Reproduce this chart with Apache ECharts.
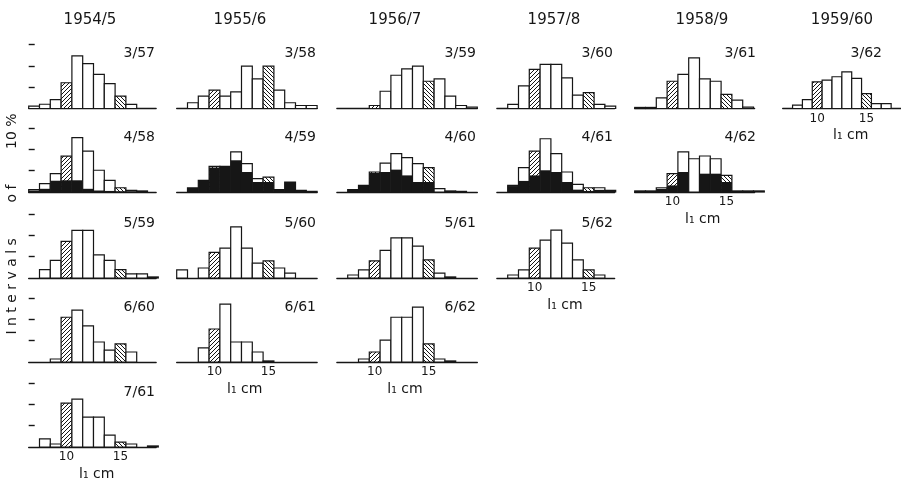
<!DOCTYPE html>
<html>
<head>
<meta charset="utf-8">
<script src="https://cdn.jsdelivr.net/npm/echarts@6/dist/echarts.min.js"></script>
<style>
html, body { margin: 0; background: #fff; }
#chart { width: 901px; height: 481px; }
</style>
</head>
<body>
<div id="chart"></div>
<script>
// year classes, one per column
const yearClasses = ['1954/5', '1955/6', '1956/7', '1957/8', '1958/9', '1959/60']

// % of fish in each 1 cm class of l1 (first value = class given in the panel table)
const pct_3_57 = [1.1, 2.0, 4.2, 12.1, 24.7, 21.1, 16.0, 11.7, 5.8, 1.9]
const pct_4_58 = [1.1, 3.9, 8.6, 16.8, 25.5, 19.2, 10.2, 5.5, 2.0, 0.8, 0.5]
const blk_4_58 = [0.7, 1.5, 5.3, 5.5, 5.5, 1.5, 0.7, 0.5, 0.3, 0.3, 0.3]
const pct_5_59 = [3.9, 8.3, 17.2, 22.4, 22.4, 10.9, 8.3, 3.9, 1.9, 1.9, 0.5]
const pct_6_60 = [1.4, 21.0, 24.4, 17.0, 9.4, 5.6, 8.5, 4.7]
const pct_7_61 = [3.8, 1.4, 20.6, 22.5, 14.0, 14.0, 5.6, 2.3, 1.4, 0, 0.5]

const pct_3_58 = [2.7, 5.8, 8.6, 5.8, 7.8, 19.9, 13.9, 19.9, 8.6, 2.7, 1.4, 1.4]
const pct_4_59 = [1.9, 5.5, 12.0, 12.0, 18.8, 13.3, 6.3, 7.0, 1.1, 4.7, 0.8, 0.3]
const blk_4_59 = [1.9, 5.5, 11.5, 12.0, 14.9, 9.4, 4.7, 4.7, 1.1, 4.7, 0.8, 0.3]
const pct_5_60 = [3.8, 0, 4.7, 12.0, 14.0, 24.0, 14.0, 7.0, 8.0, 4.7, 2.3]
const pct_6_61 = [6.6, 15.5, 27.2, 9.4, 9.4, 4.7, 0.5]

const pct_3_59 = [1.4, 8.1, 15.6, 18.6, 19.9, 12.8, 13.9, 5.8, 1.4, 0.6]
const pct_4_60 = [1.1, 3.1, 9.4, 13.6, 18.0, 16.1, 13.3, 11.4, 1.6, 0.5, 0.3]
const blk_4_60 = [1.1, 3.1, 9.0, 9.4, 10.5, 7.8, 4.7, 4.7, 0, 0, 0.3]
const pct_5_61 = [1.4, 3.8, 8.0, 13.0, 18.8, 18.8, 15.0, 8.5, 2.3, 0.5]
const pct_6_62 = [1.4, 4.7, 10.3, 21.0, 21.0, 25.8, 8.5, 1.4, 0.5]

const pct_3_60 = [1.9, 10.6, 18.4, 20.7, 20.7, 14.4, 6.3, 7.5, 1.9, 1.1]
const pct_4_61 = [3.1, 11.4, 19.2, 25.0, 18.0, 9.4, 3.6, 2.0, 2.0, 0.8]
const blk_4_61 = [2.8, 5.2, 7.8, 10.2, 9.4, 4.7, 1.1, 0.5, 1.0, 0.5]
const pct_5_62 = [1.4, 3.8, 14.0, 17.8, 22.5, 16.4, 8.5, 3.8, 1.4]

const pct_3_61 = [0.5, 0.5, 5.0, 12.8, 16.0, 23.8, 13.9, 12.8, 6.6, 3.9, 0.6]
const pct_4_62 = [0.5, 0.5, 2.0, 8.6, 18.8, 15.6, 16.9, 15.6, 7.8, 0.5, 0.5, 0.5]
const blk_4_62 = [0.5, 0.5, 1.5, 3.1, 9.4, 0, 8.6, 8.6, 4.7, 0.5, 0.5, 0.5]

const pct_3_62 = [1.6, 4.2, 12.5, 13.3, 14.9, 17.2, 14.1, 7.0, 2.3, 2.3]

// label, column, row, first class (cm), totals, black part
const panels = [
  ['3/57', 0, 0, 7, pct_3_57, null],
  ['4/58', 0, 1, 7, pct_4_58, blk_4_58],
  ['5/59', 0, 2, 8, pct_5_59, null],
  ['6/60', 0, 3, 9, pct_6_60, null],
  ['7/61', 0, 4, 8, pct_7_61, null],
  ['3/58', 1, 0, 8, pct_3_58, null],
  ['4/59', 1, 1, 8, pct_4_59, blk_4_59],
  ['5/60', 1, 2, 7, pct_5_60, null],
  ['6/61', 1, 3, 9, pct_6_61, null],
  ['3/59', 2, 0, 10, pct_3_59, null],
  ['4/60', 2, 1, 8, pct_4_60, blk_4_60],
  ['5/61', 2, 2, 8, pct_5_61, null],
  ['6/62', 2, 3, 9, pct_6_62, null],
  ['3/60', 3, 0, 8, pct_3_60, null],
  ['4/61', 3, 1, 8, pct_4_61, blk_4_61],
  ['5/62', 3, 2, 8, pct_5_62, null],
  ['3/61', 4, 0, 7, pct_3_61, null],
  ['4/62', 4, 1, 7, pct_4_62, blk_4_62],
  ['3/62', 5, 0, 8, pct_3_62, null],
]

// layout
const PX_CM = 10.8
const PCT_MAX = 32
const GRID_H = PCT_MAX * 2.13
const X_MIN = 6.5
const colX0 = [28.7, 176.7, 336.9, 496.9, 634.7, 782.7]
const colXMax = [18.3, 19.5, 19.5, 17.4, 17.6, 18.5]
const colRight = [155, 316, 476, 613, 756, 882]
const colTitleX = [90, 240, 395, 554, 702, 842]
const rowBase = [108.5, 192, 278, 362, 447]
const lastRow = [4, 3, 3, 2, 1, 0]
const INK = '#161616'
const FONT = 'DejaVu Sans'

function hatchTile(dir) {
  const c = document.createElement('canvas')
  c.width = 4
  c.height = 4
  const g = c.getContext('2d')
  g.fillStyle = '#fff'
  g.fillRect(0, 0, 4, 4)
  g.strokeStyle = INK
  g.lineWidth = 1
  g.beginPath()
  for (let k = -4; k <= 4; k += 4) {
    if (dir > 0) {
      g.moveTo(k, 4); g.lineTo(k + 4, 0)
    } else {
      g.moveTo(k, 0); g.lineTo(k + 4, 4)
    }
  }
  g.stroke()
  return c
}
const fills = ['#fff', { image: hatchTile(1), repeat: 'repeat' }, { image: hatchTile(-1), repeat: 'repeat' }]

function renderBin(params, api) {
  const x = api.value(0)
  const h = api.value(1)
  const b = api.value(2)
  const k = api.value(3)
  if (h <= 0) return null
  const p0 = api.coord([x - 0.5, 0])
  const p1 = api.coord([x + 0.5, h])
  const children = [{
    type: 'rect',
    shape: { x: p0[0], y: p1[1], width: p1[0] - p0[0], height: p0[1] - p1[1] },
    style: { fill: fills[k], stroke: INK, lineWidth: 1.2 },
  }]
  if (b > 0) {
    const pb = api.coord([x + 0.5, b])
    children.push({
      type: 'rect',
      shape: { x: p0[0], y: pb[1], width: pb[0] - p0[0], height: p0[1] - pb[1] },
      style: { fill: INK },
    })
  }
  return { type: 'group', children }
}

const grid = []
const xAxis = []
const yAxis = []
const series = []
const graphic = []

panels.forEach(([label, c, r, first, pct, blk], i) => {
  const bottom = lastRow[c] === r
  grid.push({
    left: colX0[c],
    top: rowBase[r] - GRID_H,
    width: (colXMax[c] - X_MIN) * PX_CM,
    height: GRID_H,
  })
  xAxis.push({
    type: 'value', gridIndex: i, min: X_MIN, max: colXMax[c],
    axisLine: { lineStyle: { color: INK, width: 1.4 } },
    axisTick: { show: false },
    splitLine: { show: false },
    axisLabel: {
      show: bottom, customValues: [10, 15], margin: 4,
      color: INK, fontSize: 12, fontFamily: FONT,
    },
  })
  yAxis.push({
    type: 'value', gridIndex: i, min: 0, max: PCT_MAX,
    axisLine: { show: false },
    axisTick: {
      show: c === 0, inside: true, length: 6, customValues: [10, 20, 30],
      lineStyle: { color: INK, width: 1.4 },
    },
    axisLabel: { show: false },
    splitLine: { show: false },
  })
  const data = pct.map((v, j) => {
    const cm = first + j
    return [cm, v, blk ? blk[j] : 0, cm === 10 ? 1 : cm === 15 ? 2 : 0]
  })
  series.push({
    type: 'custom', xAxisIndex: i, yAxisIndex: i,
    renderItem: renderBin, data, silent: true,
  })
  graphic.push({
    type: 'text', x: colRight[c], y: rowBase[r] - 55,
    style: { text: label, font: '14px ' + FONT, fill: INK, align: 'right', verticalAlign: 'middle' },
  })
  if (bottom) {
    graphic.push({
      type: 'text', x: colX0[c] + (12.8 - X_MIN) * PX_CM, y: rowBase[r] + 27,
      style: { text: 'l\u2081 cm', font: '14px ' + FONT, fill: INK, align: 'center', verticalAlign: 'middle' },
    })
  }
})

yearClasses.forEach((t, c) => {
  graphic.push({
    type: 'text', x: colTitleX[c], y: 20,
    style: { text: t, font: '15px ' + FONT, fill: INK, align: 'center', verticalAlign: 'middle' },
  })
})
graphic.push({
  type: 'text', x: 12, y: 224, rotation: Math.PI / 2,
  style: { text: 'I n t e r v a l s        o f        10 %', font: '14px ' + FONT, fill: INK, align: 'center', verticalAlign: 'middle' },
})

const chart = echarts.init(document.getElementById('chart'), null, { renderer: 'canvas' })
chart.setOption({
  animation: false,
  backgroundColor: '#fff',
  grid, xAxis, yAxis, series, graphic,
})
</script>
</body>
</html>
